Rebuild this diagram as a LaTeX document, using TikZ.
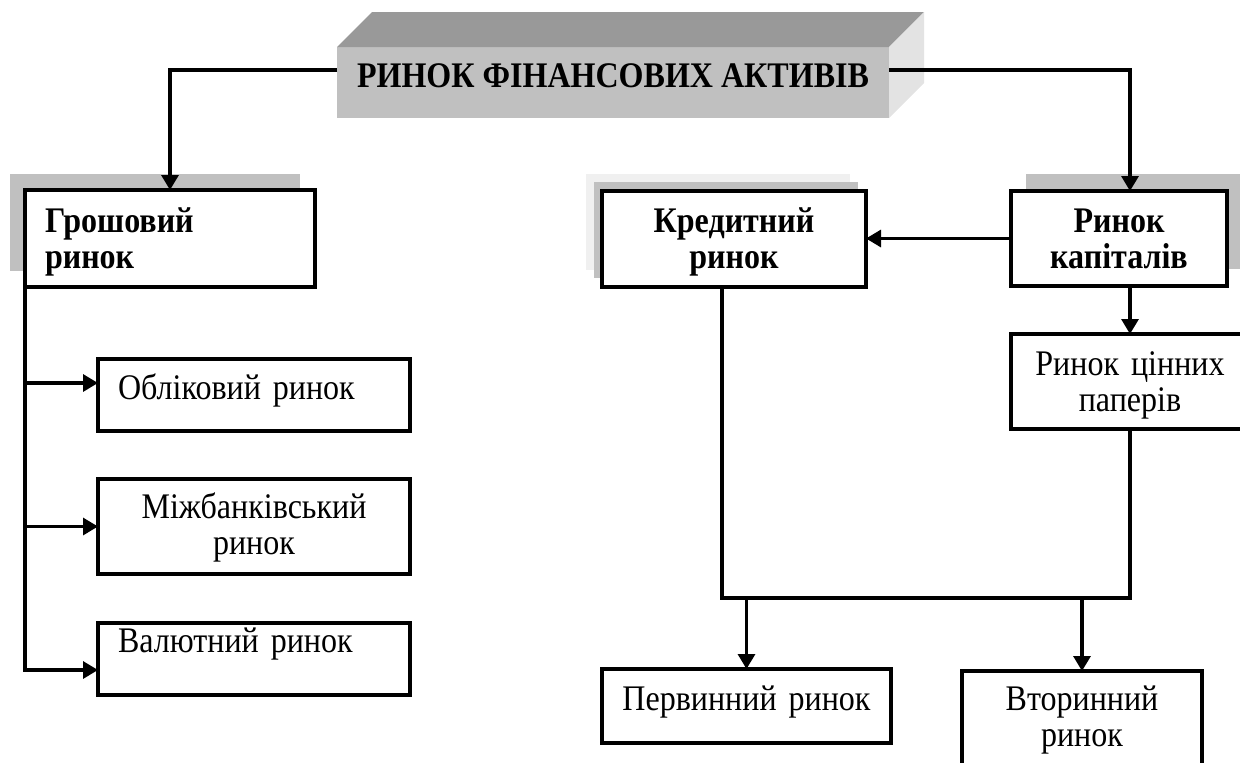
\documentclass[tikz,border=0pt]{standalone}
\usepackage{fontspec}
\setmainfont{Liberation Serif}[FakeStretch=0.89]
\usepackage{xcolor}
\usepackage{tikz}
\usetikzlibrary{arrows.meta, positioning, calc, shadows}
\definecolor{frontGray}{RGB}{192, 192, 192}
\definecolor{topGray}{RGB}{153, 153, 153}
\definecolor{sideGray}{RGB}{227, 227, 227}
\definecolor{shadowGray}{RGB}{192, 192, 192}
\definecolor{paleGray}{RGB}{240, 240, 240}
\newcommand{\boxfont}{\fontsize{36}{36}\selectfont}

\begin{document}
\begin{tikzpicture}[
    x=1pt, y=-1pt,
    box/.style={rectangle, draw=black, line width=3.2pt, outer sep=0pt, inner xsep=20pt, inner ysep=0pt, font=\boxfont, align=center},
    headbox/.style={box, font=\boxfont\bfseries},
    arrow/.style={->, >={Triangle[length=15pt, width=17pt]}, line width=3.2pt},
    line/.style={line width=3.2pt}
]
\useasboundingbox (0,0) rectangle (1240,763);

% Title block
\node[rectangle, fill=frontGray, font=\boxfont\bfseries, inner sep=0pt, outer sep=0pt,
      minimum width=552pt, text height=40pt, text depth=31pt, anchor=north west] (title) at (337,47) {РИНОК ФІНАНСОВИХ АКТИВІВ};
\fill[topGray] (title.north west) -- ++(35,-35) -- ([xshift=35pt, yshift=35pt]title.north east) -- (title.north east) -- cycle;
\fill[sideGray] (title.north east) -- ++(35,-35) -- ++(0,71) -- (title.south east) -- cycle;

% Money market
\node[headbox, align=left, text width=250pt, text height=42pt, text depth=55pt, anchor=north west,
      drop shadow={shadow xshift=-15pt, shadow yshift=16pt, fill=shadowGray, opacity=1}, fill=white] (money) at (25,190) {Грошовий\\ринок};
\node[box, align=left, text width=272pt, text height=40pt, text depth=32pt, anchor=north west] (discount) at (98,359) {Обліковий ринок};
\node[box, text width=272pt, text height=39pt, text depth=56pt, below=48pt of discount.south west, anchor=north west] (interbank) {Міжбанківський\\ринок};
\node[box, align=left, text width=272pt, text height=29pt, text depth=43pt, below=49pt of interbank.south west, anchor=north west] (currency) {Валютний ринок};

% Credit and capital markets
\node[headbox, text width=224pt, text height=41pt, text depth=55pt, anchor=north west, fill=white,
      drop shadow={shadow xshift=-16pt, shadow yshift=17pt, fill=paleGray, opacity=1},
      drop shadow={shadow xshift=-8pt, shadow yshift=9pt, fill=shadowGray, opacity=1}] (credit) at (602,191) {Кредитний\\ринок};
\node[headbox, text width=176pt, text height=41pt, text depth=54pt, anchor=north west, fill=white,
      drop shadow={shadow xshift=15pt, shadow yshift=17pt, fill=shadowGray, opacity=1}] (capital) at (1011,191) {Ринок\\капіталів};
\node[box, text width=198pt, text height=41pt, text depth=54pt, below=48pt of capital.south west, anchor=north west] (securities) {Ринок цінних\\паперів};

% Primary and secondary
\node[box, text width=249pt, text height=41pt, text depth=33pt, anchor=north west] (primary) at (602,669) {Первинний ринок};
\node[box, text width=200pt, text height=39pt, text depth=89pt, anchor=north west] (secondary) at (962,671) {Вторинний\\ринок};
\coordinate (joinL) at (722,598);
\coordinate (joinR) at (securities.south |- joinL);

% Arrows
\draw[arrow] ([yshift=12.5pt]title.west) -| (money.north);
\draw[arrow] ([yshift=12.5pt]title.east) -| (securities.north |- capital.north);
\draw[arrow] (capital.west) -- (capital.west -| credit.east);
\draw[arrow] (securities.north |- capital.south) -- (securities.north);
\draw[arrow] (money.south west) |- ([yshift=-11pt]currency.west);
\draw[arrow] ([yshift=12pt]discount.west -| money.west) -- ([yshift=12pt]discount.west);
\draw[arrow] (interbank.west -| money.west) -- (interbank.west);
\draw[line] (credit.south -| joinL) -- (joinL) -- (joinR) -- (securities.south);
\draw[arrow] (joinL -| primary.north) -- (primary.north);
\draw[arrow] (joinL -| secondary.north) -- (secondary.north);

\end{tikzpicture}
\end{document}
